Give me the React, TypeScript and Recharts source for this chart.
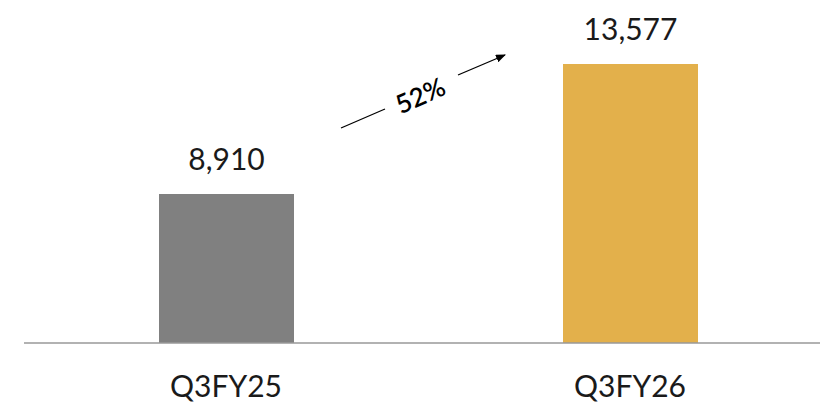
import React from "react"
import { BarChart, Bar, XAxis, YAxis, Cell, LabelList, Customized } from "recharts"

// quarters and revenue values
const quarters = ["Q3FY25", "Q3FY26"]
const values = [8910, 13577]
const barColors = ["#808080", "#E3B04B"]
const growthLabel = "52%"

const data = quarters.map((q, i) => ({ name: q, value: values[i] }))

const FONT = "Lato, 'Noto Sans', sans-serif"

const QuarterTick = (props: any) => {
  const { x, y, payload } = props
  return (
    <text x={x} y={y + 54} textAnchor="middle" fontFamily={FONT} fontSize={30} fill="#1a1a1a">
      {payload.value}
    </text>
  )
}

// growth arrow annotation between the bars
const GrowthArrow = () => (
  <g>
    <defs>
      <marker id="arrowHead" markerWidth="10" markerHeight="8" refX="9" refY="4" orient="auto" markerUnits="userSpaceOnUse">
        <path d="M0,0 L10,4 L0,8 Z" fill="#000" />
      </marker>
    </defs>
    <line x1={341} y1={128} x2={385} y2={109} stroke="#000" strokeWidth={1.3} />
    <line x1={458} y1={75} x2={505} y2={55} stroke="#000" strokeWidth={1.3} markerEnd="url(#arrowHead)" />
    <text
      x={420}
      y={95}
      textAnchor="middle"
      dominantBaseline="central"
      transform="rotate(-24 420 95)"
      fontFamily={FONT}
      fontSize={26}
      fontWeight={600}
      fill="#000"
    >
      {growthLabel}
    </text>
  </g>
)

export default function App() {
  return (
    <div style={{ position: "absolute", left: 0, top: 0, width: 820, height: 405, overflow: "hidden", background: "#fff" }}>
      <BarChart width={840} height={405} data={data} margin={{ top: 0, right: 8, bottom: 61, left: 24 }}>
        <XAxis
          dataKey="name"
          height={1}
          axisLine={{ stroke: "#999", strokeWidth: 1.5 }}
          tickLine={false}
          tickSize={0}
          tickMargin={0}
          tick={<QuarterTick />}
          interval={0}
        />
        <YAxis hide domain={[3561, 15873]} />
        <Bar dataKey="value" barSize={135} isAnimationActive={false}>
          {data.map((d, i) => (
            <Cell key={d.name} fill={barColors[i]} />
          ))}
          <LabelList
            dataKey="value"
            position="top"
            offset={24}
            formatter={(v: any) => Number(v).toLocaleString("en-US")}
            style={{ fontFamily: FONT, fontSize: 30, fill: "#1a1a1a" }}
          />
        </Bar>
        <Customized component={GrowthArrow} />
      </BarChart>
    </div>
  )
}
